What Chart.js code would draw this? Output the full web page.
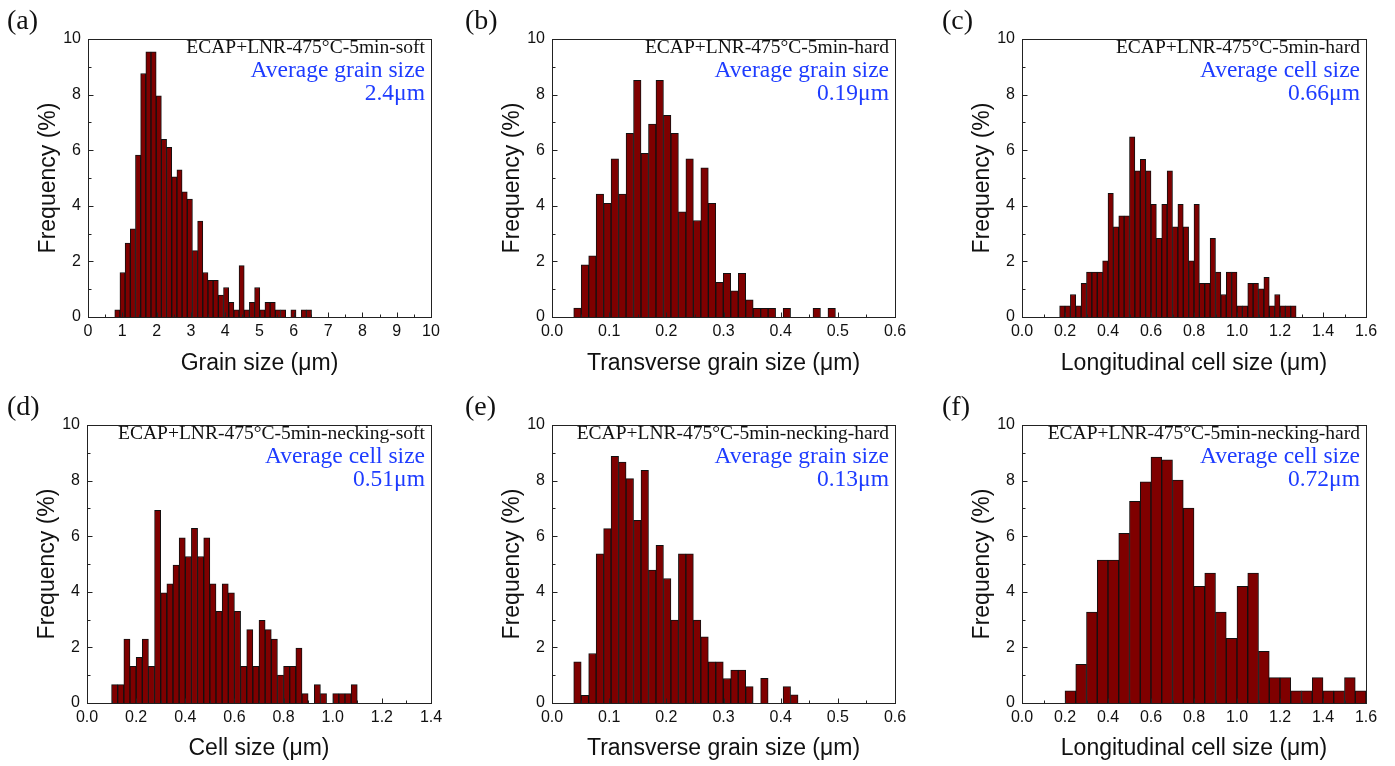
<!DOCTYPE html>
<html><head><meta charset="utf-8">
<script src="https://cdn.jsdelivr.net/npm/chart.js@4.4.0/dist/chart.umd.min.js"></script>
<style>
html,body{margin:0;padding:0;background:#fff;width:1395px;height:766px;overflow:hidden}
.p{position:absolute}
canvas{display:block}
</style></head><body>
<div class="p" style="left:0;top:0"><canvas id="ca" width="465" height="383"></canvas></div>
<div class="p" style="left:465px;top:0"><canvas id="cb" width="465" height="383"></canvas></div>
<div class="p" style="left:930px;top:0"><canvas id="cc" width="465" height="383"></canvas></div>
<div class="p" style="left:0;top:383px"><canvas id="cd" width="465" height="383"></canvas></div>
<div class="p" style="left:465px;top:383px"><canvas id="ce" width="465" height="383"></canvas></div>
<div class="p" style="left:930px;top:383px"><canvas id="cf" width="465" height="383"></canvas></div>
<script>
// ---- data: frequency (%) per histogram bin ----
const aFreq = [0.26,1.60,2.66,3.17,5.82,8.76,9.54,9.54,7.96,6.39,6.10,5.04,5.29,4.50,4.24,2.39,3.45,1.60,1.32,1.32,0.79,1.06,0.53,0.26,1.85,0.26,0.53,1.06,0.26,0.53,0.53,0.26,0.26,0,0.26,0,0.26,0.26];
const bFreq = [0.32,1.88,2.20,4.42,4.09,5.69,4.42,6.61,8.51,5.89,6.94,8.51,7.25,6.61,3.78,5.69,3.47,5.37,4.09,1.25,1.57,0.94,1.57,0.62,0.31,0.31,0.31,0,0.31,0,0,0,0.31,0,0.31];
const cFreq = [0.40,0.40,0.81,0.40,1.21,1.62,1.62,1.62,2.02,4.45,3.24,3.64,3.64,6.48,5.26,5.67,5.26,4.05,2.83,4.05,5.26,3.24,4.05,3.24,2.02,4.05,1.21,1.21,2.83,1.62,0.81,1.62,1.62,0.40,0.40,1.21,1.21,1.01,1.43,0.40,0.81,0.40,0.40,0.40];
const dFreq = [0.66,0.66,2.30,1.32,1.64,2.30,1.32,6.93,3.96,4.29,4.96,5.94,5.27,6.28,5.27,5.94,4.29,3.30,4.29,3.96,3.30,1.32,2.64,1.32,2.97,2.64,2.30,1.00,1.32,1.32,1.98,0.34,0,0.66,0.34,0,0.34,0.34,0.34,0.66];
const eFreq = [1.48,0.28,1.78,5.37,6.27,8.87,8.67,8.07,6.57,8.37,4.78,5.67,4.48,2.98,5.37,5.37,2.98,2.38,1.48,1.48,0.88,1.18,1.18,0.59,0,0.89,0,0,0.59,0.29];
const fFreq = [0.44,1.39,3.27,5.14,5.14,6.10,7.25,7.96,8.85,8.75,8.02,7.01,4.20,4.67,3.27,2.33,4.20,4.67,1.86,0.91,0.91,0.44,0.44,0.91,0.44,0.44,0.91,0.44];

// histogram bin layout (first bin start, bin width) in µm
const aBins = {start: 0.78, width: 0.151};
const bBins = {start: 0.038, width: 0.01308};
const cBins = {start: 0.175, width: 0.025};
const dBins = {start: 0.10, width: 0.025};
const eBins = {start: 0.038, width: 0.01308};
const fBins = {start: 0.20, width: 0.05};

// axis ranges / tick labels
const yTicks = [0, 2, 4, 6, 8, 10];
const xTitles = ['Grain size (μm)', 'Transverse grain size (μm)', 'Longitudinal cell size (μm)',
                 'Cell size (μm)', 'Transverse grain size (μm)', 'Longitudinal cell size (μm)'];
const sampleLabels = ['ECAP+LNR-475°C-5min-soft', 'ECAP+LNR-475°C-5min-hard', 'ECAP+LNR-475°C-5min-hard',
                      'ECAP+LNR-475°C-5min-necking-soft', 'ECAP+LNR-475°C-5min-necking-hard', 'ECAP+LNR-475°C-5min-necking-hard'];
const avgLabels = ['Average grain size', 'Average grain size', 'Average cell size',
                   'Average cell size', 'Average grain size', 'Average cell size'];
const avgValues = ['2.4μm', '0.19μm', '0.66μm', '0.51μm', '0.13μm', '0.72μm'];
const panelLetters = ['(a)', '(b)', '(c)', '(d)', '(e)', '(f)'];

const SANS = '"Liberation Sans", Arial, sans-serif';
const SERIF = '"Liberation Serif", "Times New Roman", serif';
const TITLE_SIZE = 23;

const decor = {
  id: 'decor',
  afterDraw(chart) {
    const o = chart.options.plugins.decor;
    const {ctx, chartArea: a, scales: {x, y}} = chart;
    ctx.save();
    ctx.strokeStyle = '#222';
    ctx.lineWidth = 1;
    const L = Math.round(a.left) + 0.5, R = Math.round(a.right) + 0.5;
    const T = Math.round(a.top) + 0.5, B = Math.round(a.bottom) + 0.5;
    ctx.strokeRect(L, T, R - L, B - T);
    ctx.beginPath();
    const nx = Math.round((x.max - x.min) / o.xMinor);
    for (let i = 1; i < nx; i++) {
      const v = x.min + i * o.xMinor;
      const px = Math.round(x.getPixelForValue(v)) + 0.5;
      const len = (i % 2 === 0) ? 5 : 3;
      ctx.moveTo(px, B); ctx.lineTo(px, B - len);
    }
    for (let i = 1; i < 10; i++) {
      const py = Math.round(y.getPixelForValue(i)) + 0.5;
      const len = (i % 2 === 0) ? 5 : 3;
      ctx.moveTo(L, py); ctx.lineTo(L + len, py);
    }
    ctx.stroke();
    // annotations
    ctx.textAlign = 'right';
    ctx.textBaseline = 'middle';
    ctx.fillStyle = '#111';
    ctx.font = '19.5px ' + SERIF;
    ctx.fillText(o.sample, a.right - 6, a.top + 9);
    ctx.fillStyle = '#1e3cff';
    ctx.font = '23.5px ' + SERIF;
    ctx.fillText(o.avgLabel, a.right - 6, a.top + 32);
    ctx.fillText(o.avgValue, a.right - 6, a.top + 55);
    // panel letter
    ctx.textAlign = 'left';
    ctx.fillStyle = '#111';
    ctx.font = '28px ' + SERIF;
    ctx.fillText(o.letter, o.letterX, o.letterY);
    ctx.restore();
  }
};

function makeChart(id, idx, freq, bins, xr, box) {
  const W = 465, H = 383;
  const pts = freq.map((v, i) => ({x: bins.start + (i + 0.5) * bins.width, y: v}));
  new Chart(document.getElementById(id), {
    type: 'bar',
    data: {datasets: [{data: pts, backgroundColor: '#7f0000', borderColor: '#111', borderWidth: 1,
      barPercentage: 1, categoryPercentage: 1, borderSkipped: 'start'}]},
    options: {
      responsive: false, animation: false, events: [],
      layout: {padding: {left: 0, top: box.T, right: W - box.R, bottom: 0}},
      plugins: {legend: {display: false}, tooltip: {enabled: false},
        decor: {xMinor: xr.minor, sample: sampleLabels[idx], avgLabel: avgLabels[idx], avgValue: avgValues[idx],
                letter: panelLetters[idx], letterX: box.lx, letterY: box.ly}},
      scales: {
        x: {type: 'linear', min: xr.min, max: xr.max, offset: false,
          grid: {display: false, drawTicks: false}, border: {display: false},
          ticks: {stepSize: xr.step, autoSkip: false, maxRotation: 0, padding: 5, color: '#111',
            font: {family: SANS, size: 16},
            callback: v => xr.dec ? Number(v).toFixed(xr.dec) : String(Math.round(v))},
          title: {display: true, text: xTitles[idx], color: '#111', font: {family: SANS, size: TITLE_SIZE},
            padding: {top: 0, bottom: box.xtb}},
          afterFit: s => { s.height = H - box.B; }
        },
        y: {min: 0, max: 10,
          grid: {display: false, drawTicks: false}, border: {display: false},
          afterBuildTicks: s => { s.ticks = yTicks.map(v => ({value: v})); },
          ticks: {padding: 7, color: '#111', font: {family: SANS, size: 16}},
          title: {display: true, text: 'Frequency (%)', color: '#111', font: {family: SANS, size: TITLE_SIZE},
            padding: {top: box.L - 39 - TITLE_SIZE * 0.6, bottom: 0}},
          afterFit: s => { s.width = box.L; }
        }
      }
    },
    plugins: [decor]
  });
}

makeChart('ca', 0, aFreq, aBins, {min: 0, max: 10, step: 1, minor: 0.5, dec: 0}, {L: 88, R: 431, T: 39, B: 317, xtb: 6, lx: 7, ly: 22});
makeChart('cb', 1, bFreq, bBins, {min: 0, max: 0.6, step: 0.1, minor: 0.05, dec: 1}, {L: 87, R: 430, T: 39, B: 317, xtb: 6, lx: 0, ly: 22});
makeChart('cc', 2, cFreq, cBins, {min: 0, max: 1.6, step: 0.2, minor: 0.1, dec: 1}, {L: 92, R: 436, T: 39, B: 317, xtb: 6, lx: 12, ly: 22});
makeChart('cd', 3, dFreq, dBins, {min: 0, max: 1.4, step: 0.2, minor: 0.1, dec: 1}, {L: 87, R: 431, T: 42, B: 320, xtb: 4, lx: 7, ly: 25});
makeChart('ce', 4, eFreq, eBins, {min: 0, max: 0.6, step: 0.1, minor: 0.05, dec: 1}, {L: 87, R: 430, T: 42, B: 320, xtb: 4, lx: 0, ly: 25});
makeChart('cf', 5, fFreq, fBins, {min: 0, max: 1.6, step: 0.2, minor: 0.1, dec: 1}, {L: 92, R: 436, T: 42, B: 320, xtb: 4, lx: 12, ly: 25});
</script>
</body></html>
